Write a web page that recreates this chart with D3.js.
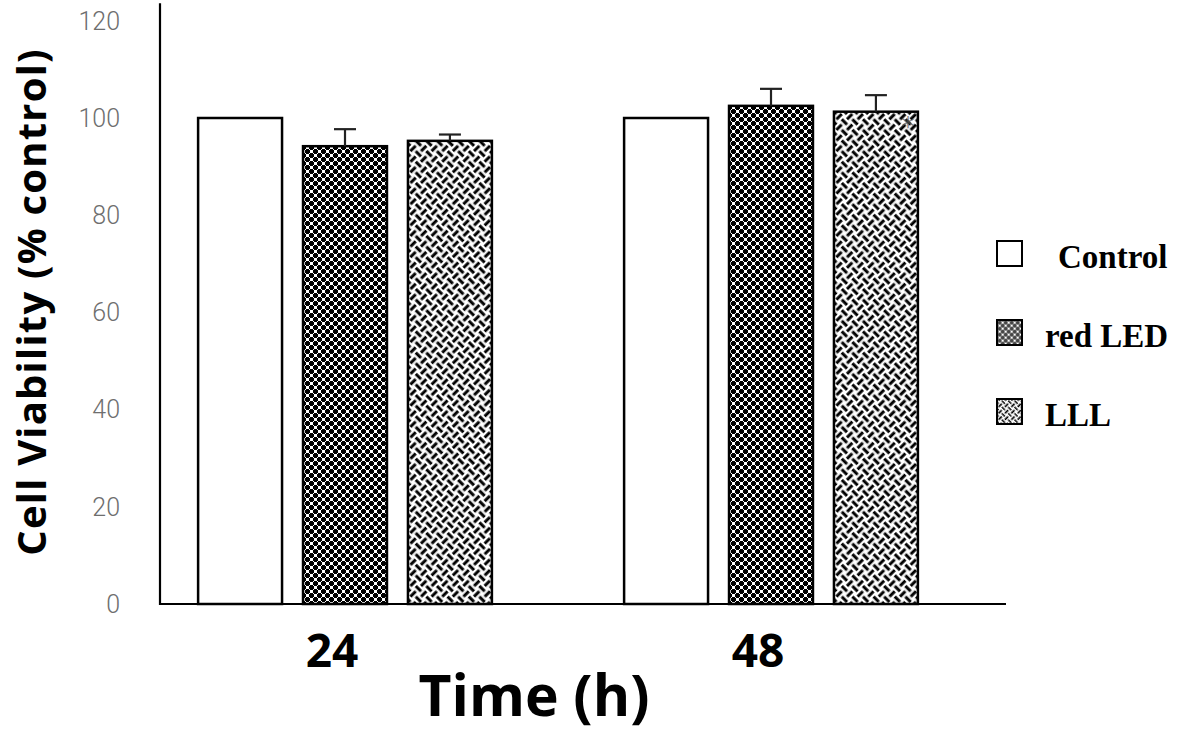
<!DOCTYPE html>
<html>
<head>
<meta charset="utf-8">
<script src="https://cdn.jsdelivr.net/npm/d3@7"></script>
<style>
  html, body { margin: 0; padding: 0; background: #fff; }
  svg { display: block; }
</style>
</head>
<body>
<script>
// values
const groups = ["24", "48"];
const series = ["Control", "red LED", "LLL"];
const control = [100, 100];
const redLED = [94.2, 102.5];
const lll = [95.3, 101.3];
const controlErr = [0, 0];
const redLEDErr = [3.5, 3.5];
const lllErr = [1.3, 3.4];
const yTicks = [0, 20, 40, 60, 80, 100, 120];

const width = 1179, height = 736;
const axisLeft = 160, axisRight = 1006;

const rows = groups.map((g, i) => ({
  group: g,
  values: [
    {key: series[0], value: control[i], err: controlErr[i]},
    {key: series[1], value: redLED[i], err: redLEDErr[i]},
    {key: series[2], value: lll[i], err: lllErr[i]}
  ]
}));

const svg = d3.select("body").append("svg")
    .attr("width", width)
    .attr("height", height);

// fill patterns (trellis for red LED, weave for LLL)
const defs = svg.append("defs");

function trellis(id, s) {
  const p = defs.append("pattern")
      .attr("id", id)
      .attr("patternUnits", "userSpaceOnUse")
      .attr("width", 8 * s).attr("height", 8 * s);
  p.append("rect").attr("width", 8 * s).attr("height", 8 * s).attr("fill", "#fff");
  const centers = [[3, 3], [7, 7], [-1, 7], [7, -1], [-1, -1], [11, 3], [3, 11], [11, 11], [3, -5], [-5, 3]];
  for (let r = 0; r < 8; r++) {
    for (let c = 0; c < 8; c++) {
      const on = centers.some(([cx, cy]) => {
        const dx = Math.abs(c - cx), dy = Math.abs(r - cy);
        return dx + dy <= 3 && Math.max(dx, dy) < 3;
      });
      if (on) p.append("rect").attr("x", c * s).attr("y", r * s)
          .attr("width", s).attr("height", s).attr("fill", "#000");
    }
  }
}

// basket weave turned 45 degrees
function weave(id, s, w) {
  const p = defs.append("pattern")
      .attr("id", id)
      .attr("patternUnits", "userSpaceOnUse")
      .attr("patternTransform", "rotate(45)")
      .attr("width", 2 * s).attr("height", 2 * s);
  p.append("rect").attr("width", 2 * s).attr("height", 2 * s).attr("fill", "#fff");
  const h = s / 2;
  p.append("path")
      .attr("d", `M0,${h}H${s} M${s + h},0V${s} M${h},${s}V${2 * s} M${s},${s + h}H${2 * s}`)
      .attr("stroke", "#000")
      .attr("stroke-width", w)
      .attr("fill", "none");
}

trellis("trellis", 1);
weave("weave", 7.5, 3);
trellis("trellisSmall", 0.75);
weave("weaveSmall", 4.5, 1.7);

const fills = {"Control": "#fff", "red LED": "url(#trellis)", "LLL": "url(#weave)"};
const legendFills = {"Control": "#fff", "red LED": "url(#trellisSmall)", "LLL": "url(#weaveSmall)"};

const y = d3.scaleLinear()
    .domain([0, 120])
    .range([604, 20.8]);

const x0 = d3.scaleBand()
    .domain(groups)
    .range([132, 984]);

const x1 = d3.scaleBand()
    .domain(series)
    .range([0, x0.bandwidth()])
    .paddingInner(0.2)
    .paddingOuter(0.63);

// y tick labels
svg.append("g")
  .selectAll("text")
  .data(yTicks)
  .join("text")
    .attr("x", 120)
    .attr("y", d => y(d))
    .attr("dy", "0.35em")
    .attr("text-anchor", "end")
    .attr("font-family", "Roboto, sans-serif")
    .attr("font-weight", 300)
    .attr("font-size", 25)
    .attr("fill", "#6e6e6e")
    .text(d => d);

// bars
const g = svg.append("g")
  .selectAll("g")
  .data(rows)
  .join("g")
    .attr("transform", d => `translate(${x0(d.group)},0)`);

g.selectAll("rect")
  .data(d => d.values)
  .join("rect")
    .attr("x", d => x1(d.key))
    .attr("y", d => y(d.value))
    .attr("width", x1.bandwidth())
    .attr("height", d => y(0) - y(d.value))
    .attr("fill", d => fills[d.key])
    .attr("stroke", "#000")
    .attr("stroke-width", 2.5);

// error bars (upper only)
const eb = g.selectAll("g.err")
  .data(d => d.values.filter(v => v.err > 0))
  .join("g")
    .attr("class", "err")
    .attr("stroke", "#222")
    .attr("stroke-width", 2.2);

eb.append("line")
    .attr("x1", d => x1(d.key) + x1.bandwidth() / 2)
    .attr("x2", d => x1(d.key) + x1.bandwidth() / 2)
    .attr("y1", d => y(d.value))
    .attr("y2", d => y(d.value + d.err));

eb.append("line")
    .attr("x1", d => x1(d.key) + x1.bandwidth() / 2 - 11)
    .attr("x2", d => x1(d.key) + x1.bandwidth() / 2 + 11)
    .attr("y1", d => y(d.value + d.err))
    .attr("y2", d => y(d.value + d.err));

// faint asterisk on LLL 48h
const last = rows[1].values[2];
svg.append("text")
    .attr("x", x0(rows[1].group) + x1(last.key) + x1.bandwidth() - 10)
    .attr("y", y(last.value) + 24)
    .attr("text-anchor", "middle")
    .attr("font-family", "DejaVu Sans, sans-serif")
    .attr("font-size", 26)
    .attr("fill", "#555")
    .attr("opacity", 0.7)
    .text("*");

// axes lines
svg.append("line")
    .attr("x1", axisLeft).attr("x2", axisLeft)
    .attr("y1", y(0) + 1).attr("y2", y(123.6))
    .attr("stroke", "#000").attr("stroke-width", 2.2);

svg.append("line")
    .attr("x1", axisLeft).attr("x2", axisRight)
    .attr("y1", y(0)).attr("y2", y(0))
    .attr("stroke", "#000").attr("stroke-width", 2.2);

// group labels
svg.append("g")
  .selectAll("text")
  .data(groups)
  .join("text")
    .attr("x", d => x0(d) + x0.bandwidth() / 2 - 13)
    .attr("y", 667)
    .attr("text-anchor", "middle")
    .attr("font-family", "Open Sans, sans-serif")
    .attr("font-weight", 700)
    .attr("font-size", 46)
    .attr("fill", "#000")
    .text(d => d);

// axis titles
svg.append("text")
    .attr("x", 534)
    .attr("y", 716)
    .attr("text-anchor", "middle")
    .attr("font-family", "Open Sans, sans-serif")
    .attr("font-weight", 700)
    .attr("font-size", 57)
    .attr("fill", "#000")
    .text("Time (h)");

svg.append("text")
    .attr("transform", `translate(46,${302}) rotate(-90)`)
    .attr("text-anchor", "middle")
    .attr("font-family", "Open Sans, sans-serif")
    .attr("font-weight", 700)
    .attr("font-size", 40)
    .attr("letter-spacing", 1.2)
    .attr("fill", "#000")
    .text("Cell Viability (% control)");

// legend
const legend = svg.append("g")
  .selectAll("g")
  .data(series)
  .join("g")
    .attr("transform", (d, i) => `translate(997,${241 + i * 79})`);

legend.append("rect")
    .attr("width", 25)
    .attr("height", 25)
    .attr("fill", d => legendFills[d])
    .attr("stroke", "#000")
    .attr("stroke-width", 2);

legend.append("text")
    .attr("x", (d, i) => i === 0 ? 61 : 48)
    .attr("y", 27)
    .attr("font-family", "Liberation Serif, serif")
    .attr("font-weight", 700)
    .attr("font-size", 33)
    .attr("fill", "#000")
    .text(d => d);
</script>
</body>
</html>
